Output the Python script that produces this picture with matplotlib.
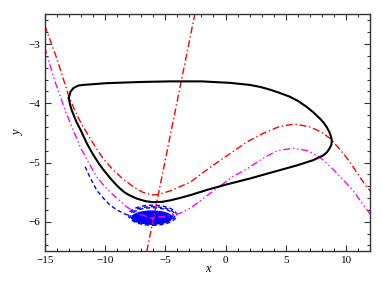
import matplotlib
matplotlib.use("Agg")
import matplotlib.pyplot as plt
from matplotlib.patches import Ellipse
from matplotlib.ticker import MultipleLocator

plt.rcParams['font.family'] = ['Liberation Serif', 'DejaVu Serif']

# red cubic nullcline (dash-dot)
red_x = [-15.0, -14.0, -13.0, -12.5, -12.0, -11.5, -11.0, -10.2, -9.3, -8.5, -7.64, -6.9,
         -6.0, -5.4, -4.6, -3.8, -2.9, -1.4, 0.37, 1.8, 3.1, 4.5, 5.76, 7.0, 7.9, 8.66,
         9.5, 10.2, 11.0, 11.6, 12.0]
red_y = [-2.68, -3.24, -3.88, -4.12, -4.33, -4.50, -4.67, -4.92, -5.13, -5.28, -5.41, -5.50,
         -5.55, -5.53, -5.48, -5.41, -5.33, -5.10, -4.85, -4.65, -4.51, -4.39, -4.35, -4.40,
         -4.48, -4.59, -4.78, -4.96, -5.20, -5.38, -5.48]

# magenta cubic (dash-dot-dot)
mag_x = [-15.0, -14.2, -13.3, -12.6, -12.0, -11.3, -10.7, -10.0, -9.3, -8.2, -7.2, -6.2,
         -5.0, -3.8, -2.9, -1.8, -0.6, 0.6, 1.76, 3.1, 4.3, 5.6, 6.8, 7.84, 8.8, 9.8,
         10.6, 11.3, 12.0]
mag_y = [-3.05, -3.60, -4.12, -4.47, -4.76, -5.02, -5.24, -5.41, -5.55, -5.75, -5.87, -5.93,
         -5.91, -5.86, -5.77, -5.60, -5.42, -5.24, -5.11, -4.93, -4.80, -4.76, -4.80, -4.91,
         -5.09, -5.30, -5.48, -5.68, -5.87]

# steep red line (dash-dot)
line_x = [-6.53, -2.55]
line_y = [-6.5, -2.5]

# black limit cycle
cyc_x = [-13.0, -12.85, -12.6, -12.2, -11.8, -9.85, -7.0, -4.6, -2.0, 0.37, 2.03, 2.9,
         3.69, 4.5, 5.35, 6.05, 6.73, 7.3, 7.84, 8.15, 8.39, 8.6, 8.75, 8.82, 8.78, 8.61,
         8.4, 8.11, 7.7, 7.28, 5.9, 3.96, 2.03, 0.1, -1.5, -2.9, -3.8, -4.6, -5.3, -6.0,
         -6.6, -7.35, -8.0, -8.4, -8.75, -9.1, -9.5, -10.1, -10.5, -11.0, -11.5, -12.0,
         -12.4, -12.75, -12.9, -13.0]
cyc_y = [-3.91, -3.80, -3.74, -3.70, -3.69, -3.66, -3.64, -3.63, -3.63, -3.655, -3.69, -3.725,
         -3.77, -3.825, -3.89, -3.965, -4.06, -4.155, -4.26, -4.33, -4.40, -4.48, -4.56,
         -4.63, -4.70, -4.77, -4.83, -4.88, -4.92, -4.96, -5.05, -5.16, -5.27, -5.37, -5.46,
         -5.55, -5.60, -5.64, -5.665, -5.67, -5.655, -5.61, -5.55, -5.50, -5.44, -5.37,
         -5.28, -5.13, -5.02, -4.86, -4.68, -4.46, -4.30, -4.12, -4.02, -3.91]

# blue spiral: incoming tail, then loops around the focus
tail_x = [-11.65, -11.2, -10.68, -10.1, -9.58, -9.0, -8.47, -8.05]
tail_y = [-5.07, -5.27, -5.47, -5.61, -5.72, -5.80, -5.86, -5.89]
loop_center = (-6.05, -5.89)
loop_w = [4.0, 3.7, 3.4]
loop_h = [0.34, 0.29, 0.25]
core_center = (-6.1, -5.93)
core_w, core_h = 3.3, 0.22

fig = plt.figure(figsize=(3.82, 2.95), dpi=100)
ax = fig.add_axes([0.117, 0.148, 0.852, 0.803])

ax.plot(red_x, red_y, color='red', lw=1.0, dashes=(5, 2, 1, 2))
ax.plot(mag_x, mag_y, color='magenta', lw=1.0, dashes=(5, 2, 1, 2, 1, 2))
ax.plot(line_x, line_y, color='red', lw=1.0, dashes=(5, 2, 1, 2))

ax.plot(tail_x, tail_y, color='blue', lw=1.0, dashes=(3, 2))
for w, h in zip(loop_w, loop_h):
    ax.add_patch(Ellipse(loop_center, w, h, fill=False, edgecolor='blue', lw=1.0,
                         linestyle=(0, (3, 2))))
ax.add_patch(Ellipse(core_center, core_w, core_h, facecolor='blue',
                     edgecolor='blue', lw=1.0))
ax.plot([core_center[0]], [core_center[1]], marker='.', ms=2, color='magenta')

ax.plot(cyc_x, cyc_y, color='black', lw=1.5)

ax.set_xlim(-15, 12)
ax.set_ylim(-6.5, -2.5)
ax.xaxis.set_major_locator(MultipleLocator(5))
ax.xaxis.set_minor_locator(MultipleLocator(1))
ax.yaxis.set_major_locator(MultipleLocator(1))
ax.yaxis.set_minor_locator(MultipleLocator(0.2))
ax.tick_params(which='both', direction='in', top=True, right=True, labelsize=8,
               color='#333333', pad=3)
ax.tick_params(which='major', length=4, width=0.8)
ax.tick_params(which='minor', length=2, width=0.8)
for s in ax.spines.values():
    s.set_linewidth(1.0)
    s.set_color('#333333')

ax.set_xlabel('x', style='italic', fontsize=9, labelpad=-1)
ax.set_ylabel('y', style='italic', fontsize=9, labelpad=3)

fig.savefig('out.png', dpi=100)
